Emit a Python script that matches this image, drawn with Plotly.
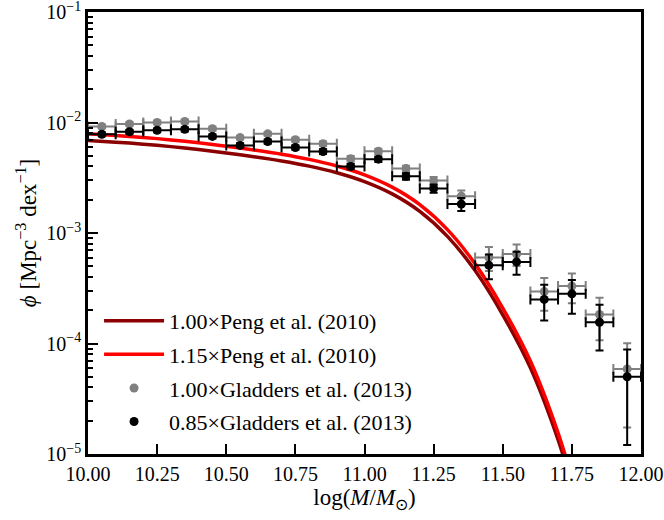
import plotly.graph_objects as go

# ---------------- data ----------------
peng_logm = [10.0, 10.1, 10.2, 10.3, 10.4, 10.5, 10.6, 10.7, 10.8, 10.9,
             11.0, 11.1, 11.2, 11.3, 11.4, 11.5, 11.6, 11.7, 11.8]
peng_phi = [6.89e-3, 6.64e-3, 6.37e-3, 6.05e-3, 5.69e-3, 5.30e-3, 4.90e-3, 4.49e-3,
            4.03e-3, 3.51e-3, 2.92e-3, 2.26e-3, 1.57e-3, 9.33e-4, 4.57e-4, 1.82e-4,
            6.03e-5, 1.35e-5, 2.0e-6]
peng_scales = [1.00, 1.15]

gl_logm = [10.05, 10.15, 10.25, 10.35, 10.45, 10.55, 10.65, 10.75, 10.85, 10.95,
           11.05, 11.15, 11.25, 11.35, 11.45, 11.55, 11.65, 11.75, 11.85, 11.95]
gl_phi = [9.2e-3, 9.7e-3, 1.0e-2, 1.02e-2, 8.8e-3, 7.3e-3, 7.9e-3, 6.98e-3, 6.43e-3, 4.71e-3,
          5.48e-3, 3.83e-3, 2.98e-3, 2.15e-3, 6.0e-4, 6.44e-4, 2.95e-4, 3.31e-4, 1.83e-4, 5.89e-5]
gl_err_gray = [3.5e-4, 3.5e-4, 3.8e-4, 4.0e-4, 3.5e-4, 3.0e-4, 3.2e-4, 3.0e-4, 3.0e-4, 2.6e-4,
               3.0e-4, 2.4e-4, 2.4e-4, 2.7e-4, 1.48e-4, 1.41e-4, 0.97e-4, 1.0e-4, 7.6e-5, 4.15e-5]
gl_err_black = [3.2e-4, 3.2e-4, 3.4e-4, 3.6e-4, 3.2e-4, 2.7e-4, 2.9e-4, 2.7e-4, 2.7e-4, 2.3e-4,
                2.7e-4, 2.2e-4, 2.2e-4, 2.5e-4, 1.28e-4, 1.28e-4, 0.89e-4, 0.95e-4, 6.9e-5, 3.8e-5]
gl_xerr = [0.05] * len(gl_logm)
gl_scales = [1.00, 0.85]

x_ticks = [10.0, 10.25, 10.5, 10.75, 11.0, 11.25, 11.5, 11.75, 12.0]
y_ticks = [1e-5, 1e-4, 1e-3, 1e-2, 1e-1]
y_ticktext = ["10<sup>−5</sup>", "10<sup>−4</sup>", "10<sup>−3</sup>", "10<sup>−2</sup>", "10<sup>−1</sup>"]

FONT = "Liberation Serif"

fig = go.Figure()

line_colors = ["#8b0000", "#ff0000"]
for s, c, g in zip(peng_scales, line_colors, ["a", "b"]):
    fig.add_trace(go.Scatter(
        x=peng_logm, y=[s * v for v in peng_phi], mode="lines",
        line=dict(color=c, width=3.5, shape="spline", smoothing=0.8),
        name=f"{s:.2f}×Peng et al. (2010)", legendgroup=g))

pt_colors = ["#808080", "#000000"]
errs = [gl_err_gray, gl_err_black]
for s, c, e, g in zip(gl_scales, pt_colors, errs, ["c", "d"]):
    fig.add_trace(go.Scatter(
        x=gl_logm, y=[s * v for v in gl_phi], mode="markers",
        marker=dict(color=c, size=9, symbol="circle"),
        error_x=dict(type="data", array=gl_xerr, color=c, thickness=2, width=5),
        error_y=dict(type="data", array=e, color=c, thickness=2, width=4),
        name=f"{s:.2f}×Gladders et al. (2013)", legendgroup=g))

axis_common = dict(showline=True, linecolor="black", linewidth=2.5, mirror=True,
                   ticks="inside", tickcolor="black", tickwidth=2, ticklen=10,
                   showgrid=False, zeroline=False, ticklabeloverflow="allow",
                   tickfont=dict(family=FONT, size=20, color="black"))

fig.update_xaxes(range=[10, 12], tickvals=x_ticks, tickformat=".2f",
                 title=dict(text="log(<i>M</i>/<i>M</i><sub>⊙</sub>)",
                            font=dict(family=FONT, size=23, color="black"), standoff=6),
                 **axis_common)
minor_vals = [m * 10 ** k for k in range(-5, -1) for m in range(2, 10)]
fig.update_yaxes(type="log", range=[-5, -1], tickvals=y_ticks, ticktext=y_ticktext,
                 minor=dict(ticks="inside", ticklen=5, tickwidth=2, tickcolor="black",
                            tickvals=minor_vals, showgrid=False),
                 title=dict(text="<i>ϕ</i> [Mpc<sup>−3</sup> dex<sup>−1</sup>]",
                            font=dict(family=FONT, size=23, color="black"), standoff=4),
                 **axis_common)

fig.update_layout(
    width=664, height=520,
    margin=dict(l=88, r=23, t=12, b=66, autoexpand=False),
    paper_bgcolor="white", plot_bgcolor="white",
    font=dict(family=FONT, color="black"),
    showlegend=True,
    legend=dict(x=0.02, y=0.025, xanchor="left", yanchor="bottom",
                bgcolor="rgba(0,0,0,0)", borderwidth=0,
                font=dict(family=FONT, size=22, color="black"),
                traceorder="grouped", tracegroupgap=2, itemwidth=60),
)

fig.write_html("out.html", config={"displayModeBar": False},
               post_script="document.body.style.margin='0';document.body.style.overflow='hidden';")
